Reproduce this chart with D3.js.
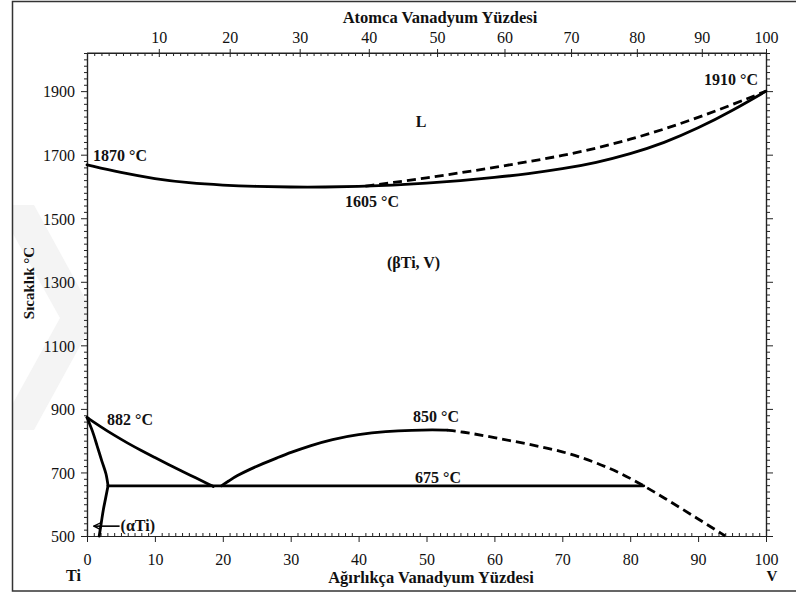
<!DOCTYPE html>
<html>
<head>
<meta charset="utf-8">
<script src="https://cdn.jsdelivr.net/npm/d3@7"></script>
<style>
  html, body { margin: 0; padding: 0; background: #fff; }
  svg { display: block; }
  text { font-family: "Liberation Serif", "Times New Roman", serif; fill: #111; }
  .lbl { font-weight: bold; font-size: 16px; }
</style>
</head>
<body>
<svg id="chart" width="796" height="594"></svg>
<script>
// ---------------- data (wt% V, temperature °C) ----------------
const liquidusW = [0, 5, 10, 15, 20, 25, 30, 35, 40, 45, 50, 55, 60, 65, 70, 75, 80, 85, 90, 95, 100];
const liquidusT = [1668, 1643, 1624, 1611, 1604, 1600, 1598, 1598, 1600, 1604, 1610, 1618, 1628, 1640, 1655, 1675, 1702, 1737, 1783, 1838, 1900];

const upperDashW = [41, 45, 50, 55, 60, 65, 70, 75, 80, 85, 90, 95, 100];
const upperDashT = [1601, 1612, 1627, 1643, 1660, 1678, 1697, 1720, 1748, 1780, 1817, 1857, 1900];

const betaTransusW = [0, 2, 4, 6, 8, 10, 12, 14, 16, 18, 18.6];
const betaTransusT = [873, 844, 817, 792, 769, 747, 725, 704, 683, 662, 656];

const alphaUpperW = [0, 0.8, 1.5, 2.2, 2.8, 3.1];
const alphaUpperT = [873, 830, 783, 735, 695, 658];

const alphaLowerW = [3.1, 2.75, 2.4, 2.1, 1.8];
const alphaLowerT = [658, 620, 582, 541, 500];

const domeSolidW = [19.8, 21, 22, 24, 26, 28, 30, 33, 36, 40, 44, 48, 51, 53];
const domeSolidT = [658, 675, 689, 710, 729, 746, 763, 785, 804, 820, 829, 833, 834, 833];

const domeDashW = [53, 55, 60, 65, 70, 75, 80, 85, 90, 94];
const domeDashT = [833, 829, 810, 789, 767, 732, 684, 620, 554, 500];

const eutectoidW = [3.1, 82];
const eutectoidT = 658;

const arrowW = [4.8, 1.0];
const arrowT = 531;

// ticks
const wtTicks = [0, 10, 20, 30, 40, 50, 60, 70, 80, 90, 100];
const atTicks = [10, 20, 30, 40, 50, 60, 70, 80, 90, 100];
const tempTicks = [500, 700, 900, 1100, 1300, 1500, 1700, 1900];

// ---------------- helpers ----------------
const MW_TI = 47.867, MW_V = 50.942;
function wtFromAt(a) {
  return 100 * a * MW_V / (a * MW_V + (100 - a) * MW_TI);
}
const zip = (W, T) => W.map((w, i) => [w, T[i]]);

// ---------------- scales ----------------
const x = d3.scaleLinear().domain([0, 100]).range([87, 766]);
const y = d3.scaleLinear().domain([500, 2020]).range([536, 53]);

const svg = d3.select("#chart");

// watermark (faint)
svg.append("path")
  .attr("d", "M12,205 L34,205 L86,300 L86,335 L34,430 L12,430 L12,405 L60,318 L12,232 Z")
  .attr("fill", "#f4f4f4");

// outer frame
svg.append("path")
  .attr("d", "M797,1.5 H12.5 V591 H797")
  .attr("fill", "none").attr("stroke", "#333").attr("stroke-width", 1.5);

// ---------------- axes ----------------
function styleAxis(g) {
  g.select(".domain").attr("stroke", "#222").attr("stroke-width", 1.2);
  g.selectAll(".tick line").attr("stroke", "#222").attr("stroke-width", 1);
  g.selectAll(".tick text").style("font-family", "'Liberation Serif', serif").style("font-size", "16px").attr("fill", "#111");
}
const fmt = d3.format("d");

// left axis (major)
const gLeft = svg.append("g").attr("transform", `translate(${x(0)},0)`)
  .call(d3.axisLeft(y).tickValues(tempTicks).tickFormat(fmt).tickSize(6).tickPadding(6).tickSizeOuter(0));
styleAxis(gLeft);
gLeft.selectAll(".tick text").attr("dy", "0.36em");
// left minor
const minorT = d3.range(500, 2021, 20).filter(t => !tempTicks.includes(t));
const gLeftMinor = svg.append("g").attr("transform", `translate(${x(0)},0)`)
  .call(d3.axisLeft(y).tickValues(minorT).tickSize(3).tickFormat("").tickSizeOuter(0));
styleAxis(gLeftMinor);

// right axis
const gRight = svg.append("g").attr("transform", `translate(${x(100)},0)`)
  .call(d3.axisRight(y).tickValues(tempTicks).tickSize(7).tickFormat("").tickSizeOuter(0));
styleAxis(gRight);
const gRightMinor = svg.append("g").attr("transform", `translate(${x(100)},0)`)
  .call(d3.axisRight(y).tickValues(minorT).tickSize(4).tickFormat("").tickSizeOuter(0));
styleAxis(gRightMinor);

// bottom axis (wt%)
const gBottom = svg.append("g").attr("transform", `translate(0,${y(500)})`)
  .call(d3.axisBottom(x).tickValues(wtTicks).tickFormat(fmt).tickSize(6).tickPadding(12).tickSizeOuter(0));
styleAxis(gBottom);
const minorW = d3.range(0, 101, 1).filter(w => w % 10 !== 0);
const gBottomMinor = svg.append("g").attr("transform", `translate(0,${y(500)})`)
  .call(d3.axisBottom(x).tickValues(minorW).tickSize(-3).tickFormat("").tickSizeOuter(0));
styleAxis(gBottomMinor);

// top axis (at%)
const gTop = svg.append("g").attr("transform", `translate(0,${y(2020)})`)
  .call(d3.axisTop(x).tickValues(atTicks.map(wtFromAt)).tickFormat((d, i) => atTicks[i]).tickSize(4).tickPadding(6).tickSizeOuter(0));
styleAxis(gTop);
const gTopIn = svg.append("g").attr("transform", `translate(0,${y(2020)})`)
  .call(d3.axisTop(x).tickValues(atTicks.map(wtFromAt)).tickFormat("").tickSize(-4).tickSizeOuter(0));
styleAxis(gTopIn);
const minorA = d3.range(1, 100, 1).filter(a => a % 10 !== 0);
const gTopMinor = svg.append("g").attr("transform", `translate(0,${y(2020)})`)
  .call(d3.axisTop(x).tickValues(minorA.map(wtFromAt)).tickFormat("").tickSize(-3).tickSizeOuter(0));
styleAxis(gTopMinor);
svg.append("line").attr("x1", x(0)).attr("x2", x(100)).attr("y1", y(2020)).attr("y2", y(2020))
  .attr("stroke", "#222").attr("stroke-width", 1.2);

// ---------------- curves ----------------
const smooth = d3.line().x(d => x(d[0])).y(d => y(d[1])).curve(d3.curveBasis);
const lineY = d3.line().x(d => x(d[0])).y(d => y(d[1])).curve(d3.curveMonotoneY);
const straight = d3.line().x(d => x(d[0])).y(d => y(d[1]));
const gCurves = svg.append("g").attr("fill", "none").attr("stroke", "#000");

function draw(data, dashed, gen) {
  gCurves.append("path").attr("d", (gen || smooth)(data))
    .attr("stroke-width", 2.8)
    .attr("stroke-dasharray", dashed ? "9,5" : null)
    .attr("stroke-linecap", dashed ? "butt" : "round")
    .attr("stroke-linejoin", "round");
}
draw(zip(liquidusW, liquidusT), false);
draw(zip(upperDashW, upperDashT), true);
draw(zip(betaTransusW, betaTransusT), false);
draw(zip(alphaUpperW, alphaUpperT), false, lineY);
draw(zip(alphaLowerW, alphaLowerT), false, lineY);
draw(zip(domeSolidW, domeSolidT), false);
draw(zip(domeDashW, domeDashT), true);
draw(eutectoidW.map(w => [w, eutectoidT]), false, straight);

// arrow for (αTi)
svg.append("defs").append("marker")
  .attr("id", "ah").attr("viewBox", "0 0 10 10").attr("refX", 9).attr("refY", 5)
  .attr("markerUnits", "userSpaceOnUse")
  .attr("markerWidth", 8).attr("markerHeight", 8).attr("orient", "auto")
  .append("path").attr("d", "M1,1 L9,5 L1,9").attr("fill", "none").attr("stroke", "#000").attr("stroke-width", 1.6);
svg.append("line")
  .attr("x1", x(arrowW[0])).attr("y1", y(arrowT))
  .attr("x2", x(arrowW[1])).attr("y2", y(arrowT))
  .attr("stroke", "#000").attr("stroke-width", 1.6)
  .attr("marker-end", "url(#ah)");

// ---------------- text ----------------
function txt(s, px, py, opts = {}) {
  const t = svg.append("text").attr("x", px).attr("y", py).text(s)
    .attr("class", "lbl")
    .attr("text-anchor", opts.anchor || "start");
  if (opts.size) t.style("font-size", opts.size + "px");
  if (opts.rotate) t.attr("transform", `rotate(-90,${px},${py})`);
  return t;
}
txt("Atomca Vanadyum Yüzdesi", 440, 23, { anchor: "middle", size: 16.5 });
txt("Ağırlıkça Vanadyum Yüzdesi", 431, 583, { anchor: "middle", size: 16.5 });
txt("Sıcaklık °C", 34, 283, { anchor: "middle", size: 15, rotate: true });
txt("Ti", 66, 581);
txt("V", 772, 581, { anchor: "middle", size: 15 });
txt("1870 °C", 93, 161);
txt("1910 °C", 704, 85);
txt("L", 421, 127, { anchor: "middle" });
txt("1605 °C", 345, 207);
txt("(βTi, V)", 387, 268);
txt("882 °C", 107, 425);
txt("850 °C", 413, 422);
txt("675 °C", 415, 483);
txt("(αTi)", x(arrowW[0]) + 1, y(arrowT) + 5);
</script>
</body>
</html>
